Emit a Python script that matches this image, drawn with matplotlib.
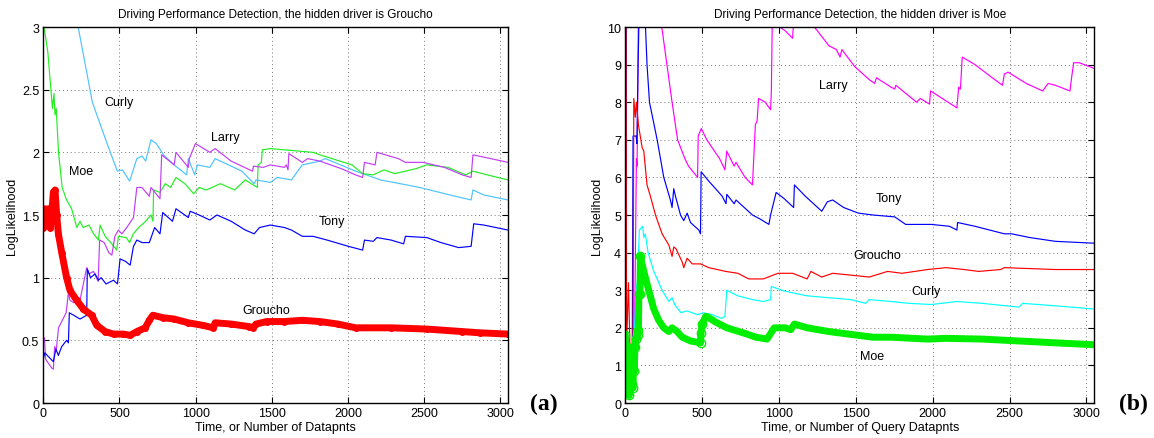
import numpy as np
import matplotlib
matplotlib.use('Agg')
import matplotlib.pyplot as plt

plt.rcParams['font.family'] = ['Liberation Sans', 'DejaVu Sans']

# ---- panel (a): hidden driver is Groucho ----
a_curly_x = [0, 200, 229, 322, 369, 416, 486, 520, 567, 614, 649, 672, 707, 742, 789, 859, 941, 952, 994, 1011,
             1093, 1128, 1303, 1384, 1396, 1490, 1536, 1629, 1700, 1816, 1851, 2050, 2214, 2470, 2703, 2808, 2820,
             2891, 3050]
a_curly_y = [6.0, 3.3, 3.0, 2.4, 2.24, 2.08, 1.85, 1.86, 1.77, 1.95, 1.97, 1.93, 2.1, 2.07, 1.98, 1.9, 1.82, 1.95,
             1.82, 1.9, 1.88, 1.95, 1.85, 1.75, 1.78, 1.76, 1.8, 1.78, 1.9, 1.93, 1.95, 1.85, 1.78, 1.72, 1.65, 1.62,
             1.7, 1.66, 1.62]

a_larry_x = [0, 8, 15, 55, 66, 75, 85, 100, 121, 150, 165, 175, 200, 241, 285, 300, 330, 360, 370, 400, 430, 450,
             470, 493, 515, 548, 592, 614, 647, 696, 707, 766, 777, 859, 871, 952, 958, 999, 1093, 1128, 1233, 1373,
             1380, 1443, 1490, 1583, 1595, 1606, 1612, 1700, 1735, 1816, 1956, 2050, 2096, 2108, 2178, 2190, 2330,
             2377, 2493, 2633, 2750, 2808, 2820, 2937, 3050]
a_larry_y = [0.47, 0.52, 0.35, 0.28, 0.27, 0.45, 0.42, 0.6, 0.65, 0.72, 0.88, 0.82, 0.8, 0.82, 1.08, 1.03, 1.05,
             0.97, 1.3, 1.28, 1.2, 1.18, 1.33, 1.38, 1.35, 1.4, 1.48, 1.72, 1.72, 1.65, 1.72, 1.63, 1.98, 1.9, 2.0,
             1.88, 1.95, 2.07, 2.0, 2.03, 1.93, 1.85, 1.89, 1.88, 1.9, 1.88, 1.9, 1.86, 1.99, 1.92, 1.95, 1.93, 1.87,
             1.82, 1.8, 1.92, 1.9, 2.0, 1.95, 1.92, 1.92, 1.88, 1.82, 1.8, 1.98, 1.95, 1.92]

a_moe_x = [0, 5, 30, 60, 70, 77, 85, 100, 124, 153, 186, 220, 241, 262, 300, 330, 362, 373, 406, 450, 482, 493,
           544, 567, 591, 626, 672, 707, 720, 724, 766, 801, 836, 871, 929, 987, 1023, 1070, 1163, 1256, 1326, 1405,
           1410, 1431, 1438, 1490, 1583, 1770, 1816, 2026, 2096, 2166, 2236, 2307, 2447, 2517, 2656, 2773, 2820,
           2914, 3050]
a_moe_y = [3.3, 3.0, 2.8, 2.35, 2.47, 2.3, 2.35, 2.0, 1.72, 1.62, 1.55, 1.4, 1.45, 1.4, 1.42, 1.35, 1.3, 1.42, 1.33,
           1.27, 1.22, 1.33, 1.32, 1.28, 1.35, 1.4, 1.45, 1.5, 1.45, 1.7, 1.68, 1.75, 1.72, 1.8, 1.75, 1.67, 1.72,
           1.7, 1.75, 1.7, 1.78, 1.72, 1.9, 1.92, 2.02, 2.03, 2.02, 2.0, 1.98, 1.9, 1.83, 1.82, 1.86, 1.83, 1.87,
           1.9, 1.88, 1.82, 1.85, 1.82, 1.78]

a_tony_x = [0, 10, 66, 83, 99, 121, 153, 165, 171, 200, 241, 285, 289, 310, 340, 362, 380, 412, 461, 487, 504, 540,
            570, 592, 614, 649, 696, 731, 766, 784, 848, 871, 952, 964, 1023, 1093, 1140, 1233, 1326, 1384, 1419, 1490,
            1583, 1629, 1700, 1770, 1863, 2003, 2096, 2108, 2166, 2190, 2283, 2365, 2377, 2517, 2610, 2726, 2808,
            2825, 2891, 3050]
a_tony_y = [0.35, 0.4, 0.33, 0.43, 0.38, 0.45, 0.5, 0.48, 0.72, 0.7, 0.67, 0.7, 1.07, 1.0, 1.03, 0.98, 1.0, 0.95,
            0.98, 0.95, 1.15, 1.13, 1.1, 1.25, 1.3, 1.28, 1.28, 1.4, 1.35, 1.52, 1.45, 1.55, 1.48, 1.53, 1.5, 1.46,
            1.5, 1.45, 1.38, 1.35, 1.4, 1.42, 1.4, 1.38, 1.33, 1.33, 1.3, 1.25, 1.22, 1.3, 1.29, 1.32, 1.3, 1.27,
            1.33, 1.32, 1.28, 1.24, 1.25, 1.43, 1.42, 1.38]

a_groucho_x = [0, 11, 22, 33, 44, 55, 66, 77, 88, 99, 121, 153, 175, 219, 263, 318, 351, 406, 461, 526, 570, 614,
               669, 696, 719, 789, 859, 952, 1046, 1116, 1128, 1233, 1349, 1377, 1396, 1466, 1583, 1700, 1816, 1933,
               2050, 2283, 2517, 2750, 2867, 3050]
a_groucho_y = [1.4, 1.55, 1.5, 1.55, 1.4, 1.5, 1.68, 1.7, 1.5, 1.35, 1.2, 1.0, 0.9, 0.82, 0.75, 0.7, 0.62, 0.57,
               0.55, 0.55, 0.54, 0.57, 0.6, 0.66, 0.7, 0.68, 0.67, 0.64, 0.62, 0.6, 0.64, 0.63, 0.61, 0.6, 0.63, 0.65,
               0.65, 0.66, 0.65, 0.63, 0.6, 0.6, 0.59, 0.57, 0.56, 0.55]

# ---- panel (b): hidden driver is Moe ----
b_larry_x = [0, 8, 20, 40, 60, 72, 76, 78, 85, 200, 237, 304, 340, 387, 411, 470, 474, 494, 530, 613, 648, 660, 708,
             720, 779, 827, 846, 857, 867, 910, 945, 950, 957, 1005, 1040, 1088, 1100, 1230, 1325, 1373, 1397, 1409,
             1492, 1587, 1622, 1634, 1729, 1753, 1760, 1895, 1919, 1979, 1986, 2062, 2157, 2169, 2180, 2192, 2275,
             2371, 2454, 2466, 2490, 2608, 2715, 2751, 2798, 2893, 2905, 2917, 2953, 3050]
b_larry_y = [5.6, 0.6, 1.0, 0.8, 2.0, 6.5, 6.3, 7.0, 10.5, 11.0, 10.0, 8.0, 7.0, 6.5, 6.3, 6.0, 7.1, 7.3, 7.0, 6.5,
             6.2, 6.7, 6.3, 6.4, 6.0, 5.8, 7.4, 7.5, 8.1, 8.0, 7.8, 8.3, 10.5, 10.0, 9.9, 9.7, 10.5, 10.0, 9.5, 9.4,
             9.2, 9.4, 8.95, 8.6, 8.5, 8.65, 8.4, 8.35, 8.45, 8.0, 8.1, 7.95, 8.3, 8.1, 7.85, 8.4, 8.35, 9.2, 9.0,
             8.7, 8.45, 8.75, 8.8, 8.5, 8.3, 8.5, 8.45, 8.3, 8.7, 9.05, 9.05, 8.9]

b_tony_x = [0, 3, 6, 15, 30, 45, 50, 70, 75, 83, 90, 126, 141, 157, 207, 250, 293, 304, 315, 326, 359, 380, 402,
            424, 478, 489, 493, 543, 587, 630, 655, 660, 708, 720, 827, 874, 934, 945, 981, 1029, 1095, 1100, 1171,
            1278, 1314, 1349, 1420, 1516, 1611, 1753, 1824, 1991, 2109, 2157, 2162, 2275, 2466, 2513, 2632, 2798, 3050]
b_tony_y = [1.0, 10.5, 1.5, 1.8, 0.6, 1.5, 7.1, 7.1, 6.9, 9.0, 10.5, 10.5, 9.0, 8.0, 7.0, 6.0, 5.4, 5.2, 5.7, 5.5,
            5.0, 4.85, 5.05, 4.8, 4.6, 4.5, 6.15, 5.9, 5.7, 5.5, 5.3, 5.55, 5.3, 5.4, 5.0, 4.9, 4.75, 5.0, 5.6, 5.45,
            5.2, 5.8, 5.5, 5.1, 5.35, 5.4, 5.2, 5.05, 5.0, 4.95, 4.75, 4.75, 4.7, 4.6, 4.8, 4.7, 4.5, 4.5, 4.4, 4.3,
            4.25]

b_groucho_x = [0, 4, 8, 20, 30, 50, 55, 65, 72, 85, 109, 120, 141, 163, 196, 239, 283, 304, 315, 330, 370, 380,
               402, 435, 489, 543, 652, 732, 803, 898, 993, 1088, 1183, 1207, 1278, 1349, 1468, 1587, 1706, 1800,
               1967, 2086, 2204, 2299, 2442, 2466, 2798, 3050]
b_groucho_y = [1.0, 10.5, 1.5, 3.2, 1.5, 1.5, 8.1, 7.6, 8.0, 7.4, 6.8, 6.7, 5.8, 5.5, 5.0, 4.5, 4.2, 3.9, 4.15, 4.1,
               3.75, 3.6, 3.85, 3.7, 3.7, 3.6, 3.5, 3.45, 3.3, 3.3, 3.45, 3.45, 3.3, 3.5, 3.35, 3.45, 3.4, 3.35, 3.5,
               3.45, 3.55, 3.6, 3.55, 3.5, 3.55, 3.6, 3.55, 3.55]

b_curly_x = [0, 20, 40, 60, 70, 80, 91, 113, 120, 130, 148, 185, 207, 239, 283, 304, 323, 363, 399, 470, 506, 565,
             625, 648, 660, 732, 827, 898, 945, 950, 1017, 1064, 1183, 1325, 1468, 1563, 1587, 1729, 1848, 1991, 2157,
             2323, 2442, 2561, 2584, 2751, 3050]
b_curly_y = [0.5, 0.8, 1.5, 2.0, 3.0, 3.3, 4.6, 4.7, 4.4, 4.5, 4.0, 3.5, 3.3, 3.0, 2.7, 2.8, 2.6, 2.4, 2.45, 2.35,
             2.4, 2.35, 2.25, 2.3, 3.0, 2.85, 2.75, 2.7, 2.75, 3.1, 3.0, 2.95, 2.85, 2.8, 2.75, 2.65, 2.75, 2.7, 2.65,
             2.62, 2.7, 2.65, 2.6, 2.55, 2.65, 2.6, 2.5]

b_moe_x = [0, 3, 8, 12, 25, 40, 50, 55, 58, 62, 70, 80, 85, 88, 95, 98, 120, 152, 185, 217, 250, 283, 304, 337, 370,
           424, 489, 492, 500, 522, 530, 589, 660, 779, 850, 922, 969, 1040, 1076, 1100, 1183, 1325, 1420, 1516,
           1611, 1729, 1967, 2086, 2323, 2561, 2798, 3050]
b_moe_y = [1.8, 0.5, 1.5, 0.3, 0.2, 0.5, 0.4, 1.5, 0.85, 1.5, 1.7, 1.8, 1.95, 2.9, 2.9, 3.9, 3.5, 3.0, 2.5, 2.2,
           2.0, 1.9, 2.0, 1.9, 1.75, 1.65, 1.6, 1.85, 2.1, 2.3, 2.3, 2.15, 2.0, 1.85, 1.75, 1.7, 2.0, 2.0, 1.95, 2.1,
           2.0, 1.9, 1.85, 1.8, 1.75, 1.75, 1.7, 1.72, 1.7, 1.65, 1.6, 1.55]

x_ticks = [0, 500, 1000, 1500, 2000, 2500, 3000]


def style_axes(ax, title, xlabel, ylim, yticks):
    ax.set_xlim(0, 3050)
    ax.set_ylim(*ylim)
    ax.set_xticks(x_ticks)
    ax.set_yticks(yticks)
    ax.set_yticklabels([('%g' % v) for v in yticks])
    ax.grid(True, linestyle=(0, (1, 3)), color='#777777', linewidth=0.7)
    ax.tick_params(direction='in', top=True, right=True, labelsize=9, length=4, pad=3)
    ax.set_title(title, fontsize=8.5, pad=7)
    ax.set_xlabel(xlabel, fontsize=9, labelpad=1)
    ax.set_ylabel('LogLikelihood', fontsize=9, labelpad=3)
    for s in ax.spines.values():
        s.set_linewidth(1.0)


fig = plt.figure(figsize=(11.54, 4.39), dpi=100)
ax1 = fig.add_axes([0.0375, 0.0797, 0.4027, 0.8565])
ax2 = fig.add_axes([0.5419, 0.0797, 0.4062, 0.8565])

lw = 0.85

# (a)
ax1.plot(a_curly_x, a_curly_y, color='#4dc3ff', lw=lw)
ax1.plot(a_moe_x, a_moe_y, color='#22ee22', lw=lw)
ax1.plot(a_larry_x, a_larry_y, color='#c13cf5', lw=lw)
ax1.plot(a_tony_x, a_tony_y, color='#0000ff', lw=lw)
ax1.plot(a_groucho_x, a_groucho_y, color='#ff0000', lw=5, marker='o', ms=4, solid_capstyle='round')
style_axes(ax1, 'Driving Performance Detection, the hidden driver is Groucho',
           'Time, or Number of Datapnts', (0, 3), [0, 0.5, 1, 1.5, 2, 2.5, 3])
ax1.text(497, 2.4, 'Curly', fontsize=9, ha='center', va='center')
ax1.text(1193, 2.12, 'Larry', fontsize=9, ha='center', va='center')
ax1.text(245, 1.85, 'Moe', fontsize=9, ha='center', va='center')
ax1.text(1891, 1.45, 'Tony', fontsize=9, ha='center', va='center')
ax1.text(1461, 0.74, 'Groucho', fontsize=9, ha='center', va='center')

# (b)
ax2.plot(b_larry_x, b_larry_y, color='#ff00ff', lw=lw)
ax2.plot(b_tony_x, b_tony_y, color='#0000ff', lw=lw)
ax2.plot(b_groucho_x, b_groucho_y, color='#ff0000', lw=lw)
ax2.plot(b_curly_x, b_curly_y, color='#00ffff', lw=lw)
ax2.plot(b_moe_x, b_moe_y, color='#00ee00', lw=5, solid_capstyle='round')
early = [i for i, x in enumerate(b_moe_x) if x <= 100 or 489 <= x <= 500]
ax2.plot(b_moe_x, b_moe_y, color='#00ee00', lw=0, marker='o', ms=6, mfc='none', mew=1.0, markevery=early)
style_axes(ax2, 'Driving Performance Detection, the hidden driver is Moe',
           'Time, or Number of Query Datapnts', (0, 10), list(range(0, 11)))
ax2.text(1354, 8.45, 'Larry', fontsize=9, ha='center', va='center')
ax2.text(1717, 5.44, 'Tony', fontsize=9, ha='center', va='center')
ax2.text(1641, 3.93, 'Groucho', fontsize=9, ha='center', va='center')
ax2.text(1955, 2.99, 'Curly', fontsize=9, ha='center', va='center')
ax2.text(1606, 1.26, 'Moe', fontsize=9, ha='center', va='center')

fig.text(0.471, 0.078, '(a)', fontsize=17, fontweight='bold', family='Liberation Serif', ha='center', va='center')
fig.text(0.9825, 0.078, '(b)', fontsize=17, fontweight='bold', family='Liberation Serif', ha='center', va='center')

fig.savefig('out.png', dpi=100)
